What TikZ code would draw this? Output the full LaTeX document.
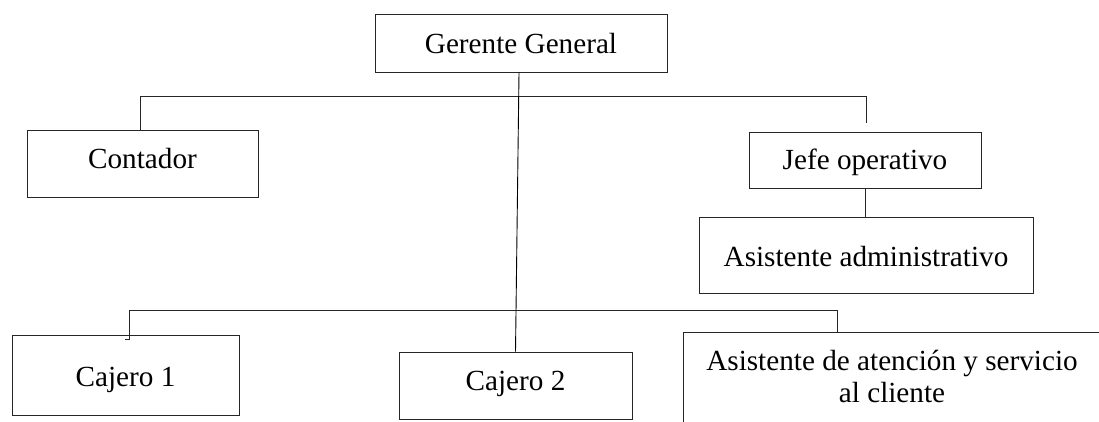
\documentclass[tikz,border=0pt]{standalone}
\usepackage{fontspec}
\setmainfont{Liberation Serif}
\begin{document}
\begin{tikzpicture}[x=1pt,y=-1pt,
  orgbox/.style={draw=black!85, line width=0.9pt, inner sep=0pt,
    text depth=7pt, font=\fontsize{29.2pt}{32pt}\selectfont},
  link/.style={draw=black!85, line width=0.9pt}]
\useasboundingbox (0,0) rectangle (1099,421);
\clip (0,0) rectangle (1099,421);

% boxes of the chart
\node[orgbox, minimum width=292pt, minimum height=58pt, text height=27pt] (ger) at (521,43) {Gerente General};
\node[orgbox, minimum width=231pt, minimum height=67pt, text height=16.6pt] (cont) at (142.5,163.5) {Contador};
\node[orgbox, minimum width=232pt, minimum height=56pt, text height=25pt] (jefe) at (865,160) {Jefe operativo};
\node[orgbox, minimum width=334pt, minimum height=76pt, text height=30.4pt] (admin) at (866,255) {Asistente administrativo};
\node[orgbox, minimum width=227pt, minimum height=80pt, text height=30.4pt] (caj1) at (125.5,375) {Cajero 1};
\node[orgbox, minimum width=233pt, minimum height=67pt, text height=16pt] (caj2) at (515.5,385.5) {Cajero 2};
\node[orgbox, minimum width=418pt, minimum height=118pt, text height=20pt, text depth=62pt] (aten) at (892,391)
  {\begin{tabular}[t]{@{}c@{}}Asistente de atención y servicio\\al cliente\end{tabular}};

% upper branch: Contador and Jefe operativo
\coordinate (busL) at (140,96);
\coordinate (busR) at (866,96);
\coordinate (jefeTap) at (866,123);
\draw[link] (busL |- cont.north) -- (busL) -- (busR) -- (jefeTap);

% Jefe operativo to Asistente administrativo
\draw[link] (jefe.south) -- (jefe.south |- admin.north);

% lower branch: cashiers and customer service
\coordinate (lowL) at (129,310);
\coordinate (lowR) at (837,310);
\coordinate (tick) at (125,339);
\draw[link] (tick) -- (lowL |- tick) -- (lowL) -- (lowR) -- (lowR |- aten.north);

% main trunk from Gerente General to Cajero 2
\draw[link, draw=black] ([xshift=-2pt]ger.south) -- (caj2.north);
\end{tikzpicture}
\end{document}
